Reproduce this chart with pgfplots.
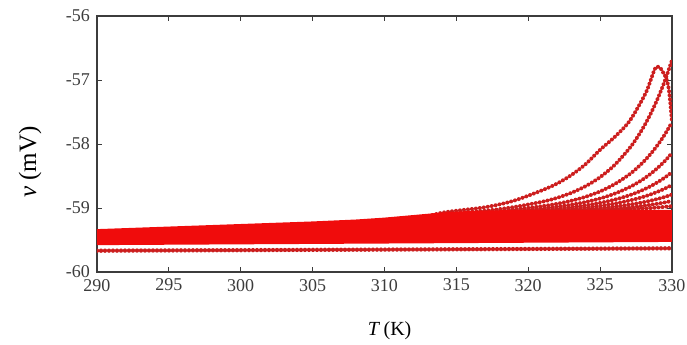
\documentclass[border=0pt]{standalone}
\usepackage{fontspec}
\setmainfont{Liberation Serif}
\usepackage{pgfplots}
\pgfplotsset{compat=1.18}
\definecolor{bandred}{RGB}{240,12,12}
\definecolor{curvered}{RGB}{204,30,30}
\definecolor{axgray}{RGB}{60,60,60}
\pgfplotsset{dotline/.style={curvered, line width=2pt, line cap=round, dash pattern=on 0pt off 2pt, smooth}}
\begin{document}
\begin{tikzpicture}
\useasboundingbox (-48.5pt,-36pt) rectangle (295pt,136pt);
\begin{axis}[
  scale only axis, width=287.5pt, height=128pt,
  at={(0,0)}, anchor=south west,
  xmin=290, xmax=330, ymin=-60, ymax=-56,
  xtick={290,295,...,330}, ytick={-60,-59,...,-56},
  major tick length=2.5pt,
  axis line style={axgray, line width=0.6pt},
  tick style={axgray, line width=0.5pt},
  ticklabel style={font=\fontsize{9}{10}\selectfont, text=axgray},
  /pgf/number format/assume math mode=true,
  xlabel={\textit{T}\,(K)}, ylabel={\textit{v} (mV)},
  xlabel style={at={(axis description cs:0.509,-0.23)}, anchor=center, font=\fontsize{10}{12}\selectfont},
  ylabel style={at={(axis description cs:-0.1165,0.43)}, anchor=center, font=\fontsize{12.5}{14}\selectfont},
]
% c1 peaked
\addplot[dotline] coordinates {(312,-59.2) (314,-59.074) (317,-58.988) (319,-58.886) (321,-58.72) (322,-58.619) (323,-58.485) (324,-58.313) (325,-58.09) (326,-57.893) (327,-57.656) (327.8,-57.36) (328.26,-57.16) (328.6,-56.95) (328.8,-56.83) (328.96,-56.79) (329.15,-56.80) (329.35,-56.87) (329.55,-56.95) (329.7,-57.05) (329.8,-57.18) (329.9,-57.40) (330,-57.66)};
% c2
\addplot[dotline] coordinates {(312,-59.2) (314,-59.097) (317,-59.043) (319,-58.985) (321,-58.901) (322,-58.842) (323,-58.763) (324,-58.658) (325,-58.518) (326,-58.330) (327,-58.079) (327.5,-57.924) (328,-57.744) (328.5,-57.535) (329,-57.293) (329.5,-57.014) (330,-56.69)};
% c3
\addplot[dotline] coordinates {(312,-59.2) (314,-59.105) (317,-59.064) (319,-59.023) (321,-58.970) (322,-58.934) (323,-58.887) (324,-58.824) (325,-58.741) (326,-58.629) (327,-58.481) (327.5,-58.389) (328,-58.282) (328.5,-58.159) (329,-58.016) (329.5,-57.851) (330,-57.66)};
% c4
\addplot[dotline] coordinates {(312,-59.2) (314,-59.110) (317,-59.074) (319,-59.042) (321,-59.004) (322,-58.979) (323,-58.948) (324,-58.906) (325,-58.851) (326,-58.777) (327,-58.679) (327.5,-58.619) (328,-58.549) (328.5,-58.468) (329,-58.374) (329.5,-58.266) (330,-58.14)};
% c5
\addplot[dotline] coordinates {(312,-59.2) (314,-59.112) (317,-59.081) (319,-59.054) (321,-59.025) (322,-59.008) (323,-58.986) (324,-58.958) (325,-58.920) (326,-58.870) (327,-58.804) (327.5,-58.763) (328,-58.715) (328.5,-58.661) (329,-58.597) (329.5,-58.524) (330,-58.44)};
% c6
\addplot[dotline] coordinates {(312,-59.2) (314,-59.114) (317,-59.085) (319,-59.062) (321,-59.039) (322,-59.027) (323,-59.012) (324,-58.992) (325,-58.966) (326,-58.932) (327,-58.886) (327.5,-58.858) (328,-58.826) (328.5,-58.789) (329,-58.746) (329.5,-58.697) (330,-58.64)};
% c7
\addplot[dotline] coordinates {(312,-59.2) (314,-59.116) (317,-59.088) (319,-59.068) (321,-59.050) (322,-59.041) (323,-59.031) (324,-59.017) (325,-59.000) (326,-58.978) (327,-58.948) (327.5,-58.930) (328,-58.910) (328.5,-58.886) (329,-58.858) (329.5,-58.827) (330,-58.79)};
% c8
\addplot[dotline] coordinates {(317,-59.090) (319,-59.072) (321,-59.057) (322,-59.051) (323,-59.044) (324,-59.035) (325,-59.023) (326,-59.009) (327,-58.990) (327.5,-58.978) (328,-58.965) (328.5,-58.950) (329,-58.933) (329.5,-58.913) (330,-58.89)};
% c9
\addplot[dotline] coordinates {(321,-59.062) (323,-59.054) (325,-59.042) (326,-59.033) (327,-59.023) (328,-59.010) (329,-58.992) (329.5,-58.982) (330,-58.97)};
% dense band
\addplot[draw=none, fill=bandred] coordinates {(290,-59.33) (295,-59.29) (300,-59.25) (305,-59.21) (308,-59.18) (310,-59.15) (312,-59.11) (314,-59.07) (316,-59.045) (318,-59.035) (320,-59.03) (330,-59.03) (330,-59.53) (310,-59.555) (290,-59.58)} -- cycle;
% lowest curve
\addplot[dotline, line width=2.2pt] coordinates {(290,-59.667) (310,-59.65) (330,-59.63)};
\end{axis}
\end{tikzpicture}
\end{document}
